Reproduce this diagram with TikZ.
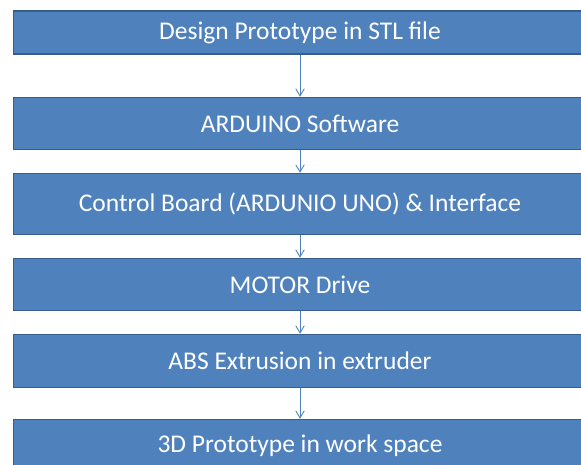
\documentclass[tikz,border=0pt]{standalone}
\usepackage{fontspec}
\setmainfont{Carlito}
\usepackage{xcolor}
\usepackage{tikz}
\usetikzlibrary{arrows.meta, positioning, calc}

\definecolor{boxblue}{HTML}{4F81BD}
\definecolor{boxedge}{HTML}{385D8A}

\begin{document}
\begin{tikzpicture}[
    x=1pt, y=-1pt,
    process/.style={rectangle, draw=boxedge, fill=boxblue, line width=1.5pt, minimum width=573pt, align=center, text=white, font=\fontsize{25.5}{30}\selectfont},
    arrow/.style={-{Straight Barb[length=2.5mm, width=3mm]}, draw=boxblue, line width=0.9pt}
]
\useasboundingbox (0,0) rectangle (581,465);
\node[process, minimum height=43pt] (design) at (300,32.5) {Design Prototype in STL file};
\node[process, minimum height=52pt] (software) at (300,123.5) {ARDUINO Software};
\node[process, minimum height=61pt] (board) at (300,204) {Control Board (ARDUNIO UNO) \& Interface};
\node[process, minimum height=52pt] (motor) at (300,284.5) {MOTOR Drive};
\node[process, minimum height=53pt] (extrusion) at (300,361) {ABS Extrusion in extruder};
\node[process, minimum height=53pt] (prototype) at (300,446) {3D Prototype in work space};

\draw[arrow] (design) -- (software);
\draw[arrow] (software) -- (board);
\draw[arrow] (board) -- (motor);
\draw[arrow] (motor) -- (extrusion);
\draw[arrow] (extrusion) -- (prototype);
\end{tikzpicture}
\end{document}
